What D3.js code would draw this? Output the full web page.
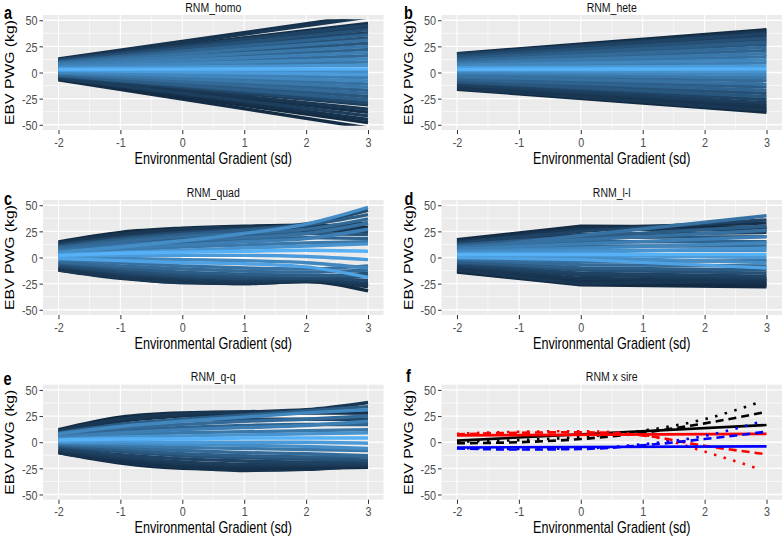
<!DOCTYPE html>
<html><head><meta charset="utf-8">
<script src="https://cdn.jsdelivr.net/npm/d3@7"></script>
<style>body{margin:0;background:#fff}svg{display:block}</style>
</head><body>
<svg id="c" width="784" height="536"></svg>
<script>
// ---------------- DATA ----------------
const xTicks = [-2, -1, 0, 1, 2, 3];
const yTicks = [-50, -25, 0, 25, 50];
const xMinor = [-1.5, -0.5, 0.5, 1.5, 2.5];
const yMinor = [-37.5, -12.5, 12.5, 37.5];
const panelTitles = ["RNM_homo", "RNM_hete", "RNM_quad", "RNM_l-l", "RNM_q-q", "RNM x sire"];
const panelLetters = ["a", "b", "c", "d", "e", "f"];
const xTitle = "Environmental Gradient (sd)";
const yTitle = "EBV PWG (kg)";

// a: homogeneous RNM, values at x = -2 and x = 3
const homoX = [-2, 3];
const homoY = [[13,55],[12,53],[12.5,47],[12,45],[11.5,43],[11,41],[10.5,38],[10,36],[9.5,33],[9,31],[8.5,28],[8,25],[7.5,22],[7,19],[6,16],[5.5,13],[5,10],[4,7],[3,3.5],[2.5,1],[2,-2],[1,-5],[0.5,-8],[0,-11],[-0.5,-14],[-1,-17],[-1.5,-20],[-2,-23],[-3,-26],[-3.5,-29],[-4,-31],[-4.5,-35],[-5,-38],[-5.5,-41.5],[-6,-45],[-6.5,-48],[-7,-53]];
const homoShade = [0.05,0.1,0.05,0.2,0.1,0.3,0.2,0.45,0.3,0.55,0.35,0.6,0.45,0.65,0.5,0.7,0.6,0.8,1.0,0.75,0.85,0.65,0.7,0.55,0.6,0.45,0.5,0.35,0.4,0.25,0.15,0.1,0.05,0.15,0.05,0.0,0.0];

// b: heterogeneous RNM
const heteX = [-2, 3];
const heteY = [[18,41],[17.5,39],[17,37],[16,35],[15,33],[14,31],[13,29],[12,27],[11,24],[10,21],[9,18],[8,15],[7,12],[5.5,9],[4.5,6],[3,3.5],[2,1],[0.5,-2],[-1,-5],[-2.5,-8],[-4,-11],[-5,-14],[-6.5,-17],[-8,-20],[-9,-23],[-10.5,-26],[-12,-29],[-13,-31.5],[-14,-34],[-15,-36],[-16,-38]];
const heteShade = [0.0,0.1,0.2,0.1,0.3,0.25,0.4,0.35,0.5,0.45,0.6,0.55,0.7,0.65,0.85,1.0,0.8,0.7,0.6,0.5,0.55,0.4,0.45,0.3,0.35,0.2,0.15,0.1,0.05,0.1,0.0];

// c: quadratic RNM, values at x = -2..3
const quadX = [-2, -1, 0, 1, 2, 3];
const quadY = [[15,24,28,30,31,29],[14,22,27,29,29,27],[13,20,25,27,29,33],[12,19,24,27,32,45],[11,18,23,25,26,24],[10,17,22,26,31,41],[9,15,20,23,27,37],[8,14,18,21,23,22],[5,10,16,23,32,48],[7,12,16,19,23,33],[6,11,14,17,19,18],[5,9,12,15,18,27],[4,7,10,12,14,15],[3,5,7,9,11,13],[2,4,5,6,7,6],[1,2,2,2,1,-2],[0,-1,-2,-3,-5,-10],[-1,-3,-5,-6,-9,-19],[-2,-5,-8,-10,-11,-8],[-4,-8,-11,-13,-14,-12],[-5,-10,-14,-16,-17,-18],[-6,-12,-16,-18,-18,-15],[-8,-14,-18,-20,-20,-22],[-9,-16,-20,-22,-21,-25],[-10,-18,-22,-24,-22,-28],[-11,-19,-23,-25,-23,-32],[-12,-20,-24,-25,-23,-27],[-12,-19,-24,-24,-20,-18]];
const quadShade = [0.0,0.1,0.05,0.25,0.15,0.4,0.5,0.35,0.75,0.55,0.45,0.65,0.6,0.8,1.0,0.85,0.7,0.9,0.55,0.5,0.4,0.3,0.25,0.15,0.1,0.0,0.05,0.1];

// d: linear-linear spline RNM, values at x = -2, 0, 3
const llX = [-2, 0, 3];
const llY = [[17,30,29],[16,28,33],[15,27,27],[14,25,36],[8,21,40],[13,22,24],[12,20,30],[11,19,20],[10,17,26],[9,15,15],[8,13,20],[7,11,11],[6,9,14],[5,7,7],[4,5,9],[3,3,3],[2,2,0],[1,0,-5],[0,-2,-10],[-1,-4,-3],[-2,-7,-8],[-4,-10,-12],[-5,-12,-15],[-7,-15,-18],[-8,-17,-20],[-10,-20,-22],[-11,-22,-25],[-13,-24,-26],[-14,-26,-28],[-12,-25,-22]];
const llShade = [0.0,0.05,0.1,0.2,0.55,0.15,0.4,0.35,0.55,0.45,0.65,0.5,0.7,0.75,0.8,1.0,0.85,0.75,0.9,0.55,0.5,0.4,0.3,0.2,0.15,0.1,0.05,0.0,0.0,0.1];

// e: quadratic-quadratic spline RNM
const qqX = [-2, -1, 0, 1, 2, 3];
const qqY = [[12,24,28,29,29,28],[11,22,27,29,31,38],[10,20,25,27,28,28],[9,17,22,26,30,34],[8,15,20,24,28,31],[9,17,21,22,22,22],[7,13,17,20,22,25],[6,11,14,16,17,17],[5,9,12,14,16,20],[4,7,9,10,11,12],[3,5,6,7,8,9],[2,3,3,4,4,4],[1,1,0,0,0,-1],[0,-1,-2,-3,-4,-6],[-1,-3,-5,-6,-7,-8],[-2,-5,-8,-10,-11,-13],[-3,-7,-11,-13,-14,-14],[-4,-9,-13,-15,-16,-17],[-6,-12,-16,-18,-19,-19],[-7,-14,-19,-21,-21,-21],[-8,-16,-21,-23,-22,-22],[-9,-18,-23,-25,-24,-23],[-10,-20,-25,-26,-25,-24],[-10,-19,-24,-27,-26,-22]];
const qqShade = [0.0,0.1,0.05,0.4,0.7,0.2,0.5,0.45,0.65,0.6,0.8,1.0,0.85,0.75,0.6,0.5,0.4,0.3,0.2,0.15,0.1,0.05,0.0,0.05];

// f: three sires under the models (solid / dashed / dotted)
const sireColors = ["#000000", "#FF0000", "#0000FF"];
const sireX = [[-2,3],[-2,-1,0,1,2,3],[-2,-1,0,1,2,2.9]];
const sireY = [
  [[1.5,16.5],[-1,0,3,9,18,29],[0.5,2,5,11,22,38.5]],
  [[6.5,8],[7.5,9,9.5,6.5,-3.5,-11.5],[8,10,10.5,7,-9,-26]],
  [[-5,-4],[-6,-7,-6.5,-3,3,10],[-5.5,-6.5,-6,-2,6,19.5]]
];
const sireLineTypes = ["none", "8,5", "2.5,7.5"];

// ---------------- LAYOUT ----------------
const SY = 1.25;                 // vertical stretch of the original figure text
const FONT = "'Liberation Sans', Arial, Helvetica, sans-serif";
const colX = [43, 441.5], colW = 340.5;
const rowY = [15, 200, 384.7], rowH = 115;
const letterPos = [[8,-2],[408.5,-2.5],[8,-1],[409,-1.7],[7.5,-6.2],[408.5,-9.4]];
const grad = d3.interpolateLab("#132B43", "#56B1F7");

function buildLines(xs, ys, shades) {
  return ys.map((row, i) => ({ pts: row.map((v, j) => [xs[j], v]), shade: shades[i] }));
}

const panels = [
  { lines: buildLines(homoX, homoY, homoShade), curve: d3.curveLinear },
  { lines: buildLines(heteX, heteY, heteShade), curve: d3.curveLinear },
  { lines: buildLines(quadX, quadY, quadShade), curve: d3.curveMonotoneX },
  { lines: buildLines(llX, llY, llShade), curve: d3.curveLinear },
  { lines: buildLines(qqX, qqY, qqShade), curve: d3.curveMonotoneX },
  { sire: true, curve: d3.curveMonotoneX }
];

const svg = d3.select("#c");
const defs = svg.append("defs");

function stretchedText(g, x, y, str, size, opts = {}) {
  return g.append("text")
    .attr("transform", `translate(${x},${y}) scale(1,${SY})` + (opts.rotate ? " rotate(-90)" : ""))
    .attr("dy", "0.35em")
    .attr("text-anchor", opts.anchor || "middle")
    .attr("font-family", FONT)
    .attr("font-size", size)
    .attr("font-weight", opts.bold ? "bold" : "normal")
    .attr("fill", opts.fill || "#000")
    .text(str);
}

panels.forEach((p, k) => {
  const col = k % 2, row = Math.floor(k / 2);
  const x0 = colX[col], y0 = rowY[row];
  const x = d3.scaleLinear().domain([-2.25, 3.25]).range([x0, x0 + colW]);
  const y = d3.scaleLinear().domain([-55, 55]).range([y0 + rowH, y0]);
  const g = svg.append("g");

  g.append("rect").attr("x", x0).attr("y", y0).attr("width", colW).attr("height", rowH).attr("fill", "#EBEBEB");
  xMinor.forEach(v => g.append("line").attr("x1", x(v)).attr("x2", x(v)).attr("y1", y0).attr("y2", y0 + rowH).attr("stroke", "#fff").attr("stroke-width", 0.55));
  yMinor.forEach(v => g.append("line").attr("x1", x0).attr("x2", x0 + colW).attr("y1", y(v)).attr("y2", y(v)).attr("stroke", "#fff").attr("stroke-width", 0.7));
  xTicks.forEach(v => g.append("line").attr("x1", x(v)).attr("x2", x(v)).attr("y1", y0).attr("y2", y0 + rowH).attr("stroke", "#fff").attr("stroke-width", 1.1));
  yTicks.forEach(v => g.append("line").attr("x1", x0).attr("x2", x0 + colW).attr("y1", y(v)).attr("y2", y(v)).attr("stroke", "#fff").attr("stroke-width", 1.35));

  const cid = "clip" + k;
  defs.append("clipPath").attr("id", cid).append("rect")
    .attr("x", x0).attr("y", y(50) - 1).attr("width", colW).attr("height", y(-50) - y(50) + 2);
  const lg = g.append("g").attr("clip-path", `url(#${cid})`);

  if (!p.sire) {
    const line = d3.line().x(d => x(d[0])).y(d => y(d[1])).curve(p.curve);
    const sorted = p.lines.slice().sort((a, b) => a.shade - b.shade);
    lg.selectAll("path").data(sorted).join("path")
      .attr("d", d => line(d.pts))
      .attr("fill", "none")
      .attr("stroke", d => grad(d.shade))
      .attr("stroke-width", 3.4);
  } else {
    const line = d3.line().x(d => x(d[0])).y(d => y(d[1])).curve(d3.curveMonotoneX);
    sireY.forEach((sire, si) => {
      sire.forEach((ys, ti) => {
        const pts = ys.map((v, j) => [sireX[ti][j], v]);
        lg.append("path").attr("d", line(pts))
          .attr("fill", "none")
          .attr("stroke", sireColors[si])
          .attr("stroke-width", 2.6)
          .attr("stroke-dasharray", sireLineTypes[ti]);
      });
    });
  }

  // axes
  const ax = g.append("g").attr("transform", `translate(0,${y0 + rowH})`)
    .call(d3.axisBottom(x).tickValues(xTicks).tickSize(4.2).tickSizeOuter(0).tickFormat(d => String(d)));
  ax.select(".domain").remove();
  ax.selectAll(".tick line").attr("stroke", "#333").attr("stroke-width", 1);
  ax.selectAll(".tick text").attr("y", null).attr("dy", "0.35em")
    .attr("transform", `translate(0,${row === 2 ? 11.3 : 12.3}) scale(1,${SY})`)
    .attr("fill", "#4D4D4D").attr("font-family", FONT).attr("font-size", 10.8);

  const ay = g.append("g").attr("transform", `translate(${x0},0)`)
    .call(d3.axisLeft(y).tickValues(yTicks).tickSize(3.5).tickSizeOuter(0).tickFormat(d => String(d)));
  ay.select(".domain").remove();
  ay.selectAll(".tick line").attr("stroke", "#333").attr("stroke-width", 1);
  ay.selectAll(".tick text").attr("x", null).attr("dy", "0.35em")
    .attr("transform", `translate(-5.5,0) scale(1,${SY})`)
    .attr("text-anchor", "end")
    .attr("fill", "#4D4D4D").attr("font-family", FONT).attr("font-size", 10.8);

  // titles
  stretchedText(g, x0 + colW / 2, y0 - 8, panelTitles[k], 10.5, { fill: "#111" });
  stretchedText(g, x0 + colW / 2, y0 + rowH + 28, xTitle, 12.6);
  stretchedText(g, x0 - 33, y0 + rowH / 2, yTitle, 12.6, { rotate: true });
  stretchedText(g, letterPos[k][0], y0 + letterPos[k][1], panelLetters[k], 14.5, { bold: true });
});
</script>
</body></html>
